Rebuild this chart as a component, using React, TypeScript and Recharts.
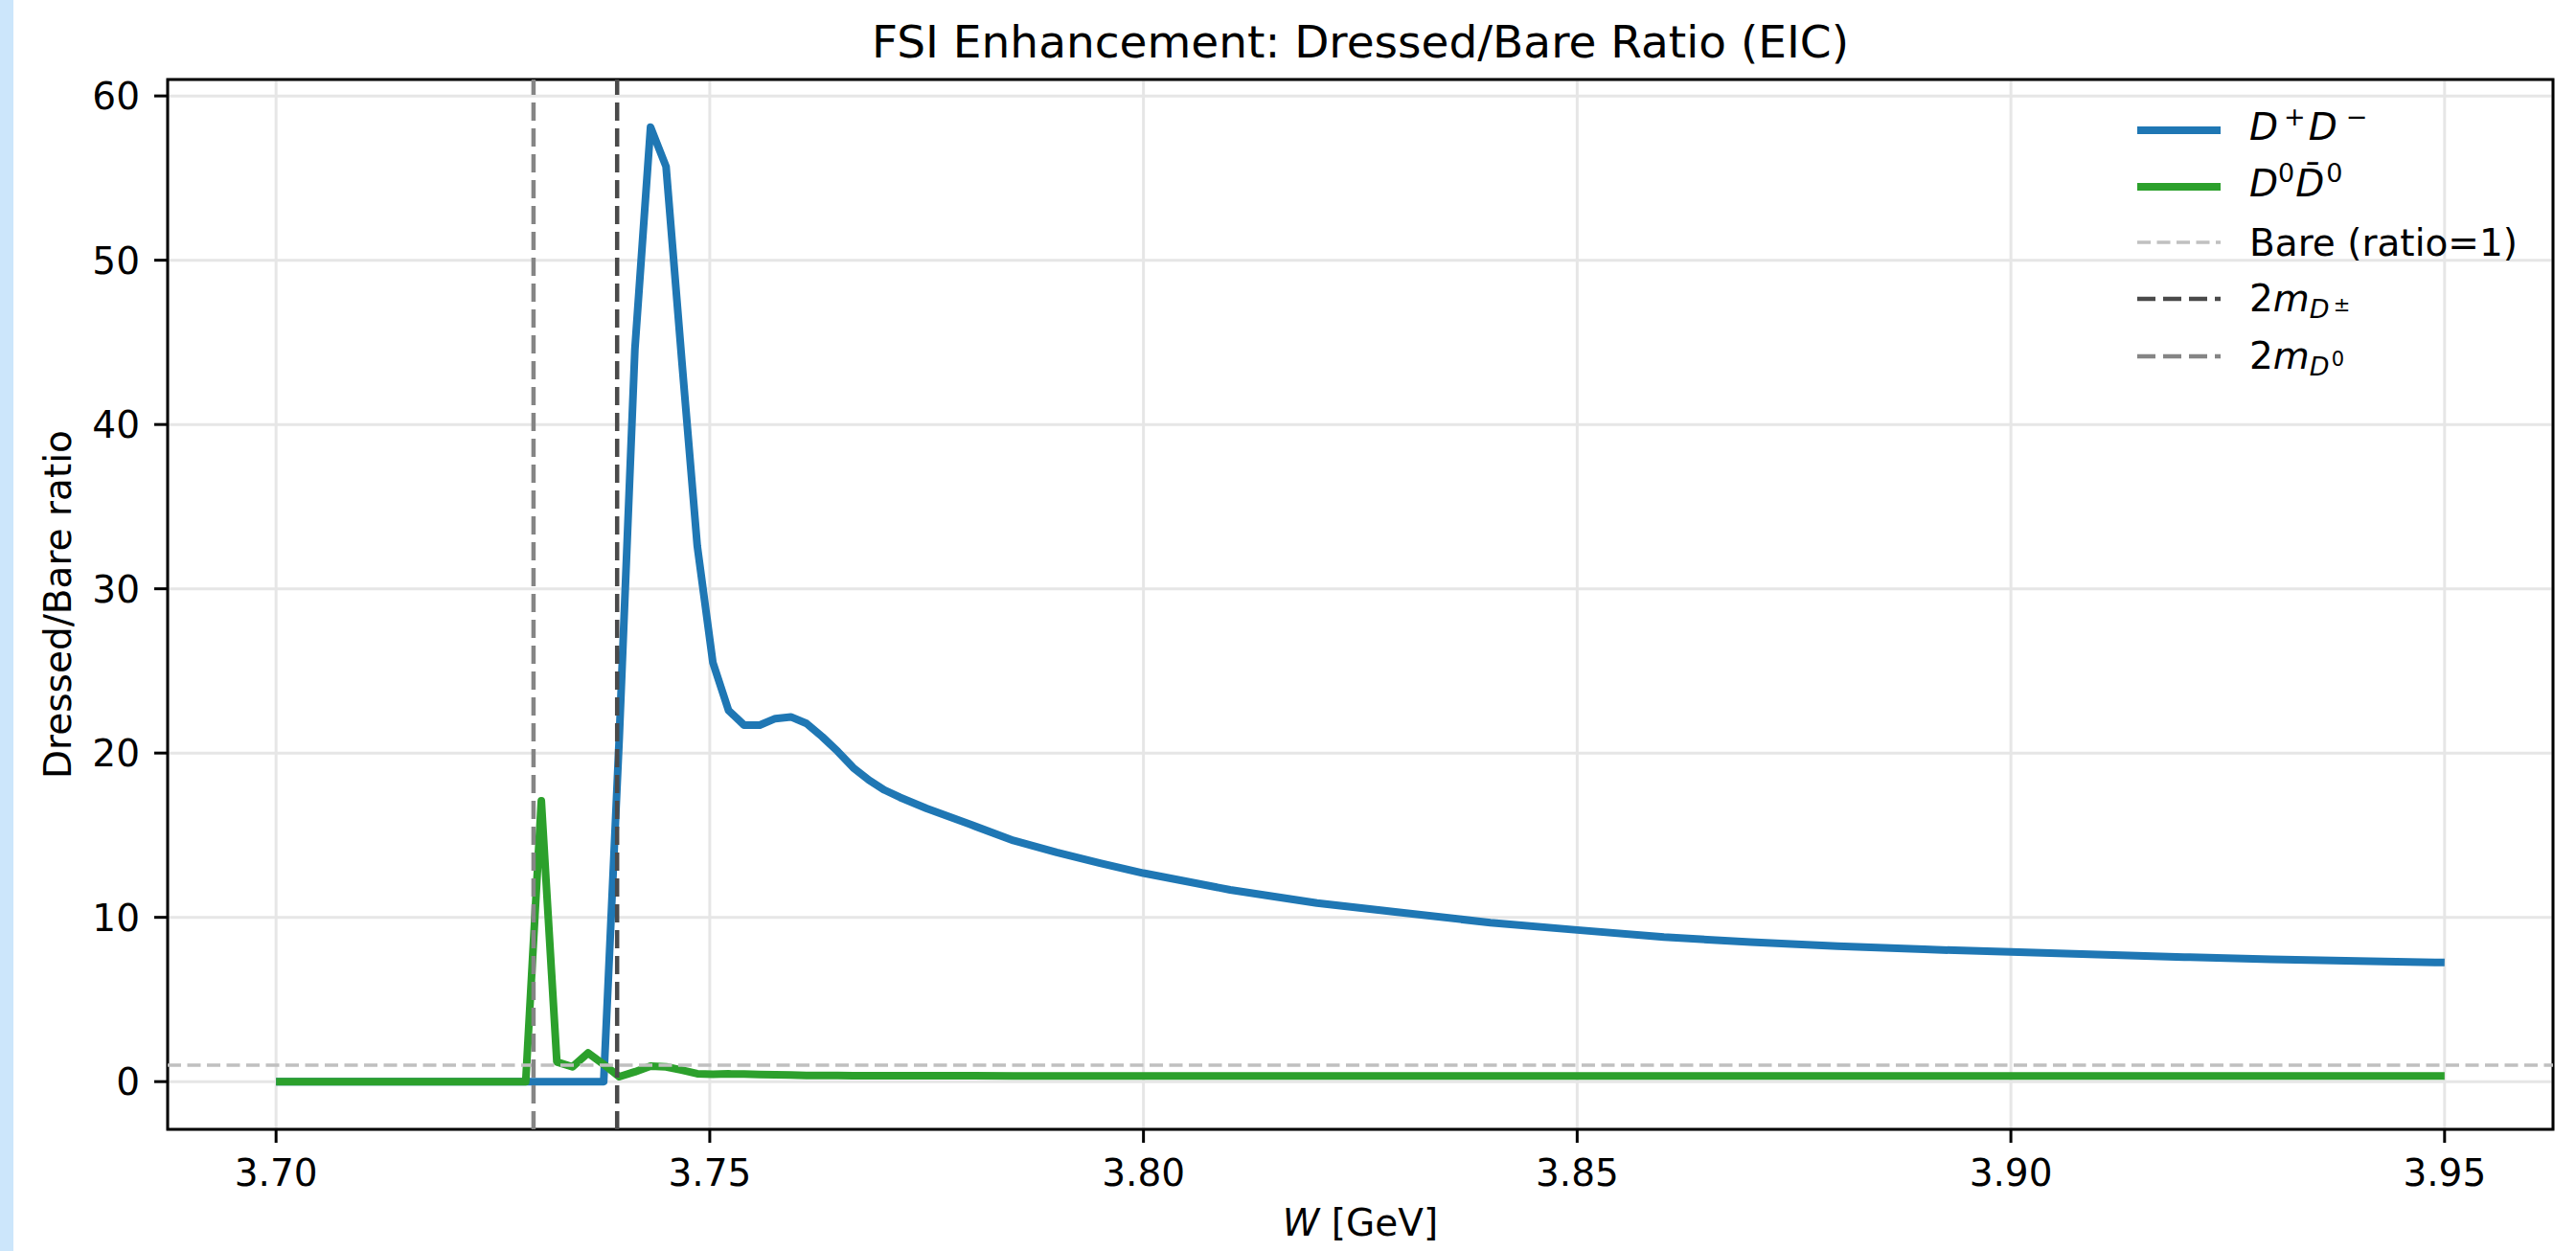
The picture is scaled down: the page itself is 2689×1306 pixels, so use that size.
import React from "react"
import {
  LineChart,
  Line,
  XAxis,
  YAxis,
  CartesianGrid,
  ReferenceLine,
  ReferenceArea,
  Legend,
} from "recharts"

// invariant mass grid (GeV): dense through the thresholds, coarser in the smooth tail
const W = [
  3.7, 3.72878, 3.73058, 3.73237, 3.73417, 3.73597, 3.73777, 3.73957, 3.74137, 3.74317,
  3.74496, 3.74676, 3.74856, 3.75036, 3.75216, 3.75396, 3.75576, 3.75755, 3.75935, 3.76115,
  3.76295, 3.76475, 3.76655, 3.76835, 3.77014, 3.77194, 3.775, 3.78, 3.785, 3.79,
  3.795, 3.8, 3.81, 3.82, 3.83, 3.84, 3.85, 3.86, 3.87, 3.88,
  3.89, 3.9, 3.91, 3.92, 3.93, 3.94, 3.95,
]

// dressed/bare ratio, charged channel
const DPM = [
  0, 0, 0, 0, 0, 0, 0, 21, 44.6, 58.1,
  55.7, 44, 32.6, 25.5, 22.6, 21.7, 21.7, 22.1, 22.2, 21.8,
  21.0, 20.1, 19.1, 18.35, 17.75, 17.3, 16.63, 15.66, 14.68, 13.95,
  13.3, 12.69, 11.67, 10.87, 10.27, 9.68, 9.23, 8.8, 8.49, 8.25,
  8.05, 7.89, 7.73, 7.58, 7.45, 7.34, 7.25,
]

// dressed/bare ratio, neutral channel
const D0 = [
  0, 0, 17.1, 1.2, 0.9, 1.75, 1.05, 0.3, 0.6, 0.95,
  0.9, 0.7, 0.48, 0.45, 0.47, 0.46, 0.44, 0.42, 0.4, 0.38,
  0.37, 0.37, 0.36, 0.36, 0.36, 0.36, 0.36, 0.36, 0.35, 0.35,
  0.35, 0.35, 0.35, 0.35, 0.35, 0.35, 0.35, 0.35, 0.35, 0.35,
  0.35, 0.35, 0.35, 0.35, 0.35, 0.35, 0.35,
]

const X_TICKS = [3.7, 3.75, 3.8, 3.85, 3.9, 3.95]
const Y_TICKS = [0, 10, 20, 30, 40, 50, 60]
const X_DOMAIN = [3.6875, 3.9625]
const Y_DOMAIN = [-2.905, 61.0]

const TWO_M_DPM = 3.73932
const TWO_M_D0 = 3.72968
const BARE = 1

const FONT = "DejaVu Sans"
const BLUE = "#1f77b4"
const GREEN = "#2ca02c"

const rows = W.map((w, i) => ({ w, dpm: DPM[i], d0: D0[i] }))

type Part = { t: string; it?: boolean; dy?: number; dx?: number; fs?: number }

const MathText = ({ x, y, parts, size }: { x: number; y: number; parts: Part[]; size: number }) => (
  <text x={x} y={y} fontFamily={FONT} fontSize={size} fill="#000">
    {parts.map((p, i) => (
      <tspan
        key={i}
        y={y + (p.dy || 0)}
        dx={p.dx || 0}
        fontStyle={p.it ? "italic" : "normal"}
        fontSize={p.fs || size}
      >
        {p.t}
      </tspan>
    ))}
  </text>
)

// legend rows: handle style + label pieces (mathtext-ish)
const legendItems = [
  {
    key: "dpm",
    color: BLUE,
    width: 8,
    dash: undefined,
    cy: 36,
    base: 46,
    parts: [
      { t: "D", it: true },
      { t: "+", dy: -15, fs: 27, dx: 6 },
      { t: "D", it: true, dx: 3 },
      { t: "\u2212", dy: -15, fs: 27, dx: 9 },
    ],
  },
  {
    key: "d0",
    color: GREEN,
    width: 8,
    dash: undefined,
    cy: 95,
    base: 105,
    parts: [
      { t: "D", it: true },
      { t: "0", dy: -15, fs: 27 },
      { t: "D\u0304", it: true, dx: 1 },
      { t: "0", dy: -15, fs: 27, dx: 2 },
    ],
  },
  {
    key: "bare",
    color: "#c0c0c0",
    width: 3.5,
    dash: "14 6.5",
    cy: 153,
    base: 167,
    parts: [{ t: "Bare (ratio=1)" }],
  },
  {
    key: "mdpm",
    color: "#4a4a4a",
    width: 4.5,
    dash: "19 8",
    cy: 212,
    base: 225,
    parts: [
      { t: "2" },
      { t: "m", it: true },
      { t: "D", it: true, dy: 7, fs: 27 },
      { t: "\u00b1", dy: 0, fs: 21, dx: 4 },
    ],
  },
  {
    key: "md0",
    color: "#858585",
    width: 4.5,
    dash: "19 8",
    cy: 272,
    base: 285,
    parts: [
      { t: "2" },
      { t: "m", it: true },
      { t: "D", it: true, dy: 7, fs: 27 },
      { t: "0", dy: -3, fs: 21, dx: 2 },
    ],
  },
]

const LegendBox = () => (
  <svg width={440} height={300}>
    {legendItems.map((item) => (
      <g key={item.key}>
        <line
          x1={11}
          x2={98}
          y1={item.cy}
          y2={item.cy}
          stroke={item.color}
          strokeWidth={item.width}
          strokeDasharray={item.dash}
        />
        <MathText x={128} y={item.base} parts={item.parts} size={39} />
      </g>
    ))}
  </svg>
)

export default function App() {
  return (
    <div style={{ position: "absolute", left: 0, top: 0, width: 2689, height: 1306, background: "#fff" }}>
      <div style={{ position: "absolute", left: 0, top: 0, width: 14, height: 1306, background: "#cce6fb" }} />
      <LineChart
        width={2689}
        height={1306}
        data={rows}
        margin={{ top: 83, right: 24, bottom: 0, left: 0 }}
      >
        <CartesianGrid stroke="#e6e6e6" strokeWidth={3} />
        <XAxis
          type="number"
          dataKey="w"
          domain={X_DOMAIN}
          ticks={X_TICKS}
          allowDataOverflow
          height={127}
          axisLine={false}
          tickLine={{ stroke: "#000", strokeWidth: 3 }}
          tickSize={14}
          tickMargin={17}
          tickFormatter={(v: number) => v.toFixed(2)}
          tick={{ fill: "#000", fontSize: 39, fontFamily: FONT }}
        />
        <YAxis
          type="number"
          domain={Y_DOMAIN}
          ticks={Y_TICKS}
          allowDataOverflow
          width={175}
          axisLine={false}
          tickLine={{ stroke: "#000", strokeWidth: 3 }}
          tickSize={14}
          tickMargin={15}
          tick={{ fill: "#000", fontSize: 39, fontFamily: FONT }}
        />
        <Line
          dataKey="dpm"
          stroke={BLUE}
          strokeWidth={8}
          strokeLinejoin="round"
          dot={false}
          activeDot={false}
          isAnimationActive={false}
        />
        <Line
          dataKey="d0"
          stroke={GREEN}
          strokeWidth={8}
          strokeLinejoin="round"
          dot={false}
          activeDot={false}
          isAnimationActive={false}
        />
        <ReferenceLine y={BARE} stroke="#c0c0c0" strokeWidth={3.5} strokeDasharray="14 6.5" />
        <ReferenceLine x={TWO_M_DPM} stroke="#4a4a4a" strokeWidth={4.5} strokeDasharray="19 8" />
        <ReferenceLine x={TWO_M_D0} stroke="#858585" strokeWidth={4.5} strokeDasharray="19 8" />
        <ReferenceArea
          x1={X_DOMAIN[0]}
          x2={X_DOMAIN[1]}
          y1={Y_DOMAIN[0]}
          y2={Y_DOMAIN[1]}
          fill="none"
          fillOpacity={0}
          stroke="#000"
          strokeWidth={3}
        />
        <Legend
          layout="vertical"
          align="center"
          verticalAlign="middle"
          content={() => <LegendBox />}
          wrapperStyle={{ position: "absolute", left: 2220, top: 100, width: 440, height: 300 }}
        />
      </LineChart>
      <svg
        width={2689}
        height={1306}
        style={{ position: "absolute", left: 0, top: 0, pointerEvents: "none" }}
      >
        <text x={1420} y={60} textAnchor="middle" fontFamily={FONT} fontSize={47} fill="#000">
          FSI Enhancement: Dressed/Bare Ratio (EIC)
        </text>
        <text x={1420} y={1290} textAnchor="middle" fontFamily={FONT} fontSize={39} fill="#000">
          <tspan fontStyle="italic">W</tspan>
          <tspan> [GeV]</tspan>
        </text>
        <text
          x={74}
          y={631}
          textAnchor="middle"
          transform="rotate(-90 74 631)"
          fontFamily={FONT}
          fontSize={39}
          fill="#000"
        >
          Dressed/Bare ratio
        </text>
      </svg>
    </div>
  )
}
